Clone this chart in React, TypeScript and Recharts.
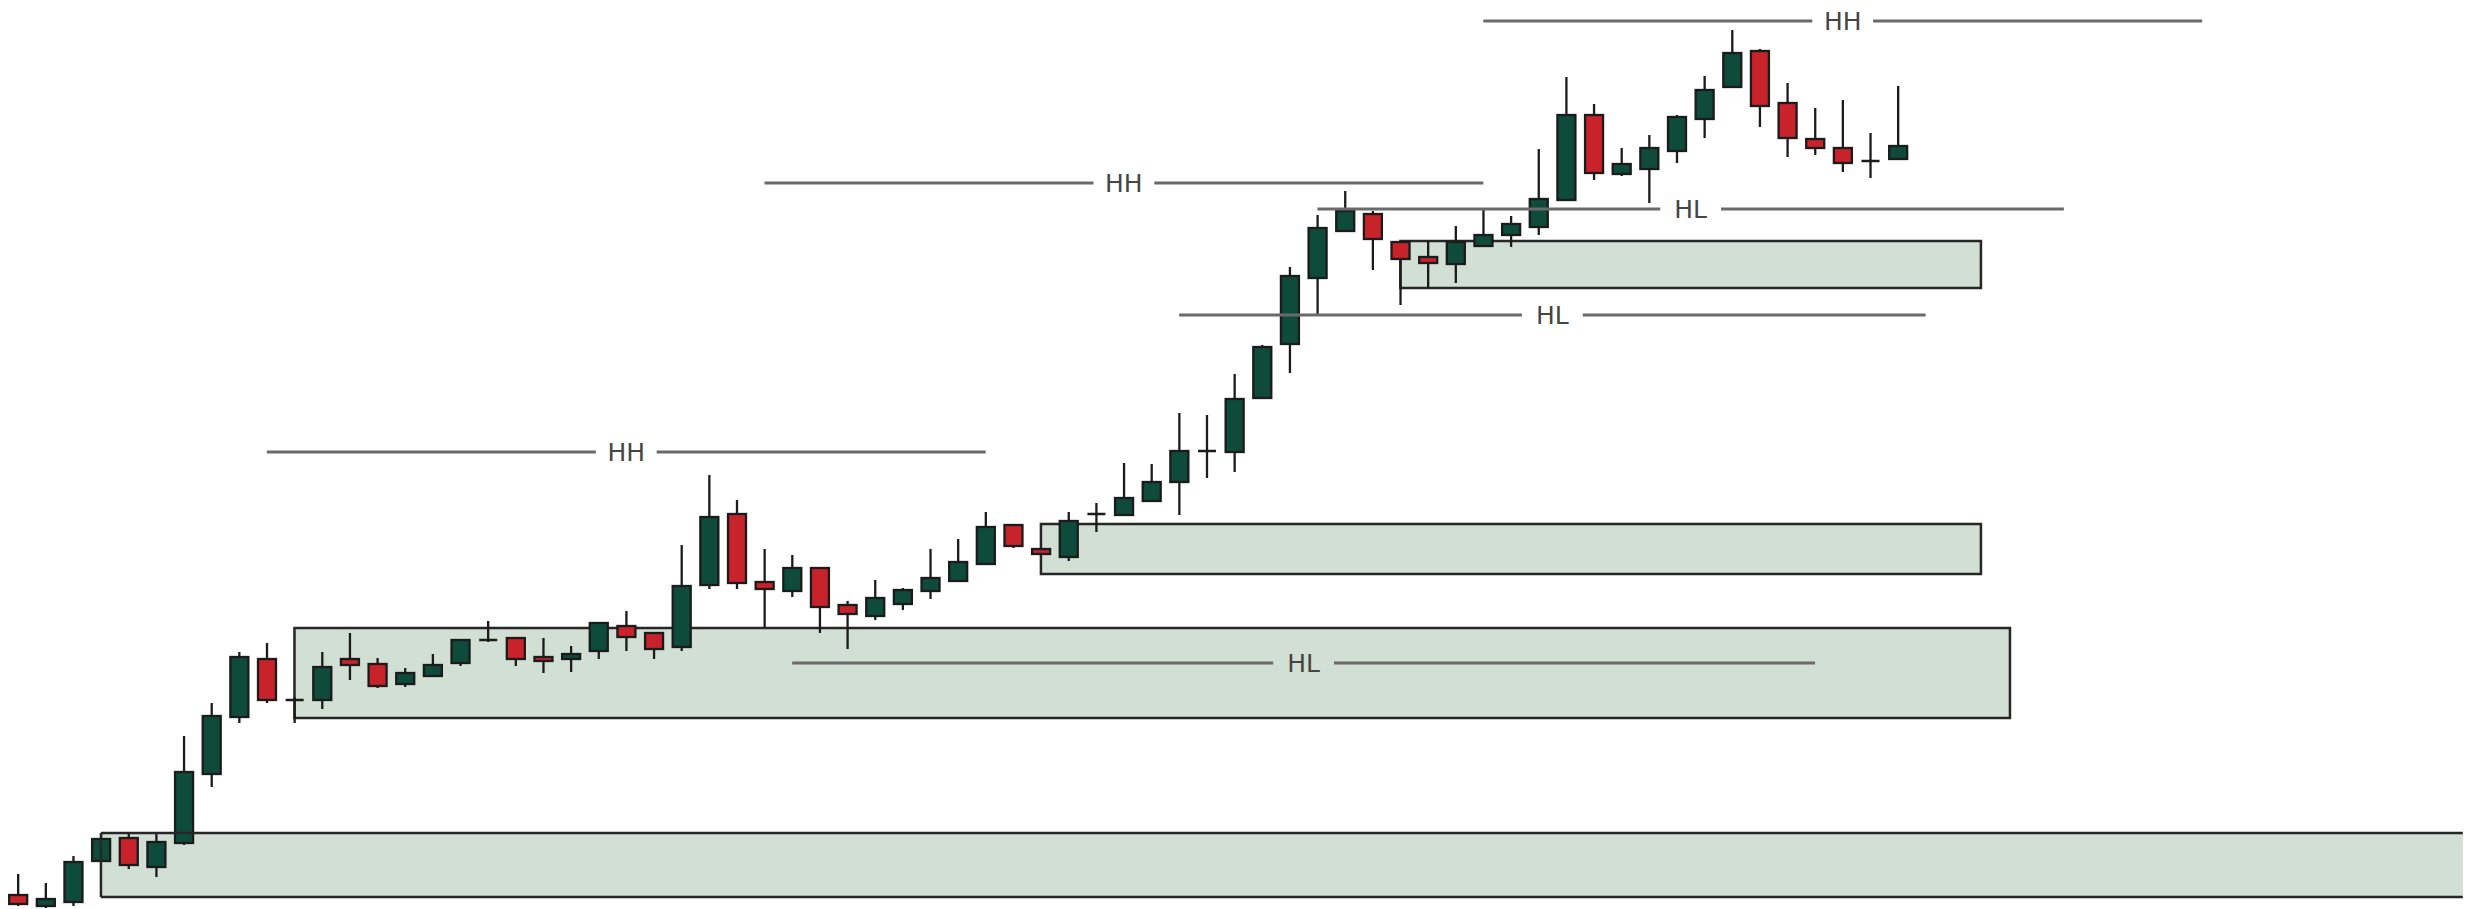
import { ComposedChart, Bar, XAxis, YAxis, ReferenceArea, ReferenceLine, ReferenceDot } from 'recharts';

// price units: arbitrary (no axis shown)
const opens = [14, 3, 7, 48, 71, 42, 66, 135, 192, 250, 209, 209, 250, 245, 225, 233, 246, 269, 271, 252, 250, 258, 283, 276, 262, 324, 395, 327, 318, 341, 304, 293, 305, 318, 328, 345, 384, 360, 352, 395, 394, 408, 427, 458, 457, 511, 565, 631, 678, 695, 667, 652, 645, 663, 674, 682, 709, 794, 735, 740, 758, 790, 822, 858, 806, 770, 761, 748, 750];
const highs = [35, 26, 53, 75, 75, 75, 173, 206, 257, 266, 212, 257, 276, 251, 241, 255, 270, 288, 272, 271, 263, 287, 298, 277, 364, 434, 409, 360, 354, 342, 308, 329, 321, 360, 370, 397, 385, 361, 397, 406, 446, 445, 496, 494, 535, 564, 642, 694, 718, 698, 668, 668, 683, 699, 693, 760, 832, 805, 761, 774, 794, 833, 879, 860, 826, 801, 809, 776, 823];
const lows = [3, 1, 3, 47, 40, 32, 64, 122, 186, 206, 186, 200, 229, 221, 222, 232, 243, 267, 243, 236, 237, 250, 258, 250, 258, 320, 320, 282, 312, 276, 260, 289, 299, 310, 327, 344, 361, 354, 348, 377, 393, 407, 394, 431, 437, 510, 536, 593, 677, 639, 604, 621, 626, 662, 662, 674, 708, 729, 733, 706, 746, 771, 821, 782, 752, 754, 737, 731, 749];
const closes = [5, 10, 47, 70, 44, 67, 137, 193, 252, 209, 209, 242, 244, 223, 236, 244, 269, 269, 250, 248, 255, 286, 272, 260, 323, 392, 326, 320, 341, 302, 295, 311, 319, 331, 347, 382, 363, 355, 388, 395, 411, 427, 458, 458, 510, 562, 633, 681, 698, 670, 650, 646, 667, 674, 685, 710, 794, 736, 745, 761, 792, 819, 856, 803, 771, 761, 746, 748, 763];

// demand zones (x in candle index units); the first one runs off the right edge
const zoneStart = [3, 10, 37, 50];
const zoneEnd = [88.43, 72.05, 71, 71];
const zoneTop = [76, 281, 385, 668];
const zoneBottom = [12, 191, 335, 621];
const zoneOpen = [true, false, false, false];

// swing levels
const levelLabels = ['HH', 'HH', 'HH', 'HL', 'HL', 'HL'];
const levelValues = [457, 726, 888, 246, 594, 700];
const levelFrom = [9, 27, 53, 28, 42, 47];
const levelTo = [35, 53, 79, 65, 69, 74];

const W = 2476;
const H = 909;
const STEP = 27.647; // px per candle
const X_MIN = -18 / STEP;
const X_MAX = (W - 18) / STEP;
const GAP = 1.1; // half gap around label, in candle units

const GREEN = '#0e4b3b';
const RED = '#c8222b';
const INK = '#1b1b1b';
const BORDER = '#262626';

const candles = opens.map((o, i) => ({
  i,
  open: o,
  high: highs[i],
  low: lows[i],
  close: closes[i],
  range: [lows[i], highs[i]],
}));

function Candle(props: any) {
  const { x, y, width, height, payload } = props;
  if (!payload) return null;
  const { open, close, high, low } = payload;
  const top = Math.min(y, y + height);
  const h = Math.abs(height);
  const span = high - low || 1;
  const toY = (v: number) => top + ((high - v) / span) * h;
  const cx = x + width / 2;
  const yO = toY(open);
  const yC = toY(close);
  const bodyTop = Math.min(yO, yC);
  const bodyH = Math.abs(yO - yC);
  return (
    <g>
      <line x1={cx} x2={cx} y1={top} y2={top + h} stroke={INK} strokeWidth={2.3} />
      {bodyH < 2 ? (
        <line x1={x} x2={x + width} y1={yO} y2={yO} stroke={INK} strokeWidth={2.5} />
      ) : (
        <rect x={x} y={bodyTop} width={width} height={bodyH} fill={close >= open ? GREEN : RED} stroke={INK} strokeWidth={2.3} />
      )}
    </g>
  );
}

export default function App() {
  return (
    <div style={{ position: 'absolute', left: 0, top: 0, width: W, height: H, background: '#fff' }}>
      <ComposedChart width={W} height={H} data={candles} margin={{ top: 0, right: 0, bottom: 0, left: 0 }}>
        <XAxis dataKey="i" type="number" domain={[X_MIN, X_MAX]} allowDataOverflow hide />
        <YAxis type="number" domain={[0, H]} allowDataOverflow hide />

        {zoneStart.map((s, k) => (
          <ReferenceArea
            key={`z${k}`}
            x1={s}
            x2={zoneEnd[k]}
            y1={zoneBottom[k]}
            y2={zoneTop[k]}
            fill="#d1dfd4"
            fillOpacity={1}
            stroke={zoneOpen[k] ? 'none' : BORDER}
            strokeWidth={2.5}
            ifOverflow="visible"
          />
        ))}
        {zoneStart.map((s, k) =>
          zoneOpen[k]
            ? [
                <ReferenceLine key={`zt${k}`} segment={[{ x: s, y: zoneTop[k] }, { x: zoneEnd[k], y: zoneTop[k] }]} stroke={BORDER} strokeWidth={2.5} />,
                <ReferenceLine key={`zb${k}`} segment={[{ x: s, y: zoneBottom[k] }, { x: zoneEnd[k], y: zoneBottom[k] }]} stroke={BORDER} strokeWidth={2.5} />,
                <ReferenceLine key={`zl${k}`} segment={[{ x: s, y: zoneBottom[k] }, { x: s, y: zoneTop[k] }]} stroke={BORDER} strokeWidth={2.5} />,
              ]
            : null
        )}

        {levelValues.map((v, k) => {
          const mid = (levelFrom[k] + levelTo[k]) / 2;
          return [
            <ReferenceLine
              key={`la${k}`}
              segment={[{ x: levelFrom[k], y: v }, { x: mid - GAP, y: v }]}
              stroke="#6a6a6a"
              strokeWidth={3}
            />,
            <ReferenceLine
              key={`lb${k}`}
              segment={[{ x: mid + GAP, y: v }, { x: levelTo[k], y: v }]}
              stroke="#6a6a6a"
              strokeWidth={3}
            />,
            <ReferenceDot
              key={`lt${k}`}
              x={mid}
              y={v}
              r={0}
              fill="none"
              stroke="none"
              label={{ value: levelLabels[k], position: 'center', fill: '#454545', fontSize: 25, fontFamily: 'DejaVu Sans' }}
            />,
          ];
        })}

        <Bar dataKey="range" barSize={18} shape={Candle} isAnimationActive={false} />
      </ComposedChart>
    </div>
  );
}
